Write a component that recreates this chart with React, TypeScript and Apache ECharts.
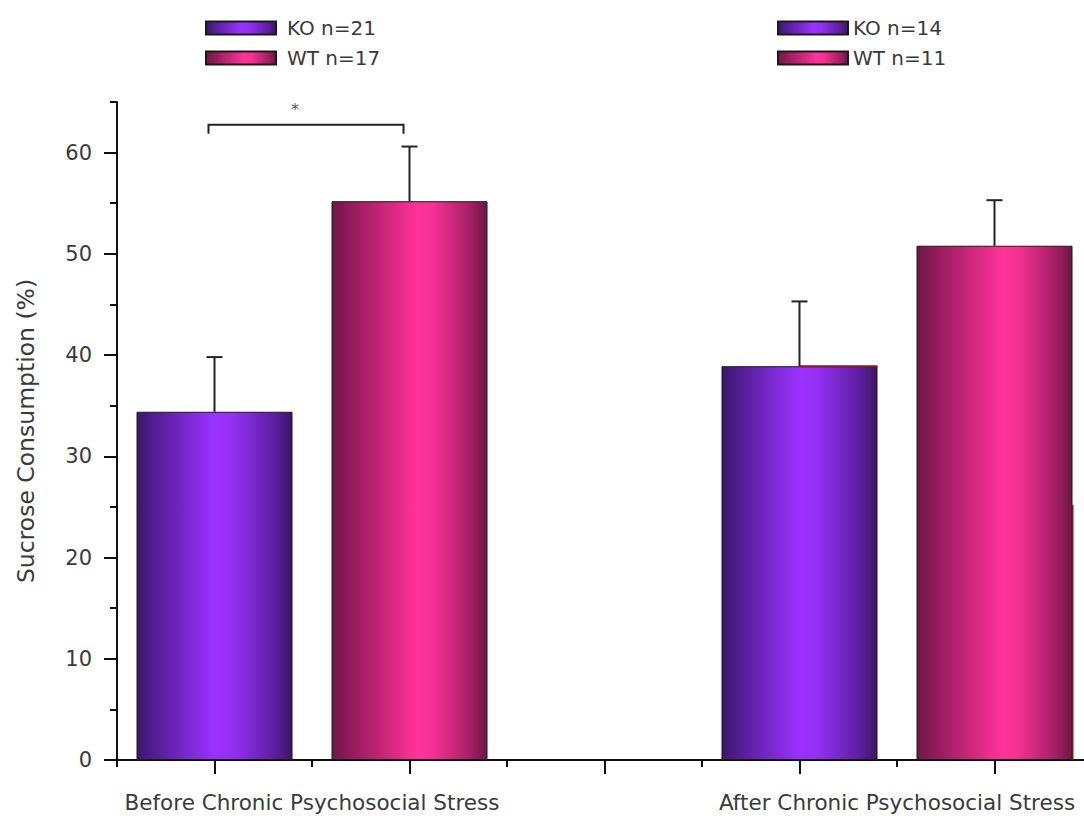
import React, { useEffect, useRef } from "react";
import * as echarts from "echarts";

// ---- data ----
const groupLabels = ["Before Chronic Psychosocial Stress", "After Chronic Psychosocial Stress"];
const slots = ["KO before", "WT before", "gap", "KO after", "WT after"];
const koMeans = [34.4, 38.9];
const koUpper = [39.8, 45.3];
const wtMeans = [55.2, 50.8];
const wtUpper = [60.6, 55.3];
const koN = [21, 14];
const wtN = [17, 11];
const yTicksMajor = [0, 10, 20, 30, 40, 50, 60];
const bracketLevel = 62.75;
const bracketSlots = [0, 1];
const edgeMarkLevel = 25.2;

const koGradient = {
  type: "linear", x: 0, y: 0, x2: 1, y2: 0,
  colorStops: [
    { offset: 0, color: "#3a1768" },
    { offset: 0.08, color: "#4c1c88" },
    { offset: 0.5, color: "#9a32ff" },
    { offset: 0.62, color: "#9330f2" },
    { offset: 0.9, color: "#5a1e9c" },
    { offset: 1, color: "#3c1662" },
  ],
};
const wtGradient = {
  type: "linear", x: 0, y: 0, x2: 1, y2: 0,
  colorStops: [
    { offset: 0, color: "#6c1846" },
    { offset: 0.1, color: "#8c1b57" },
    { offset: 0.55, color: "#ff3399" },
    { offset: 0.65, color: "#f63194" },
    { offset: 0.9, color: "#a11f62" },
    { offset: 1, color: "#681944" },
  ],
};

const FONT = "DejaVu Sans";
const TEXT = "#3a3a3a";

function slotData(group: number, kind: "KO" | "WT") {
  const arr: (number | string)[] = slots.map(() => "-");
  const idx = group * 3 + (kind === "KO" ? 0 : 1);
  arr[idx] = kind === "KO" ? koMeans[group] : wtMeans[group];
  return arr;
}

export default function App() {
  const ref = useRef<HTMLDivElement>(null);
  useEffect(() => {
    if (!ref.current) return;
    const chart = echarts.init(ref.current, null, { renderer: "svg" });
    const barCommon = {
      type: "bar",
      xAxisIndex: 1,
      yAxisIndex: 0,
      barWidth: 156,
      barGap: "-100%",
      itemStyle: { borderColor: "#1a1a1a", borderWidth: 1 },
    };
    const errData: number[][] = [];
    [0, 1].forEach((g) => {
      errData.push([g * 3, koMeans[g], koUpper[g]]);
      errData.push([g * 3 + 1, wtMeans[g], wtUpper[g]]);
    });
    const legendCommon = {
      orient: "vertical", itemWidth: 70, itemHeight: 13, itemGap: 10,
      icon: "rect", selectedMode: false,
    };
    const option: any = {
      animation: false,
      backgroundColor: "#fff",
      grid: { left: 117, top: 102, width: 975, height: 658, outerBoundsMode: "none", containLabel: false },
      legend: [
        {
          ...legendCommon, left: 200, top: 13,
          textStyle: { fontSize: 20, color: TEXT, fontFamily: FONT, padding: [0, 0, 0, 6] },
          data: [`KO n=${koN[0]}`, `WT n=${wtN[0]}`],
        },
        {
          ...legendCommon, left: 772, top: 13,
          textStyle: { fontSize: 20, color: TEXT, fontFamily: FONT, padding: [0, 0, 0, 0] },
          data: [`KO n=${koN[1]}`, `WT n=${wtN[1]}`],
        },
      ],
      xAxis: [
        {
          type: "value", min: 0.5, max: 5.5, interval: 0.5,
          axisLine: { show: true, onZero: false, lineStyle: { color: "#111", width: 2 } },
          axisTick: { show: true, length: 7, lineStyle: { color: "#111", width: 2 } },
          splitLine: { show: false },
          axisLabel: {
            margin: 31, fontSize: 21.5, color: TEXT, fontFamily: FONT,
            formatter: (v: number) => (v === 1.5 ? groupLabels[0] : v === 4.5 ? groupLabels[1] : ""),
          },
        },
        {
          type: "category", data: slots, boundaryGap: true, position: "bottom",
          axisLine: { show: false },
          axisTick: { show: true, alignWithLabel: true, length: 14, lineStyle: { color: "#111", width: 2 } },
          axisLabel: { show: false },
          splitLine: { show: false },
        },
      ],
      yAxis: [
        {
          type: "value", min: 0, max: 65, interval: 5, position: "left",
          name: "Sucrose Consumption (%)", nameLocation: "middle", nameGap: 79,
          nameTextStyle: { fontSize: 23.5, color: TEXT, fontFamily: FONT },
          axisLine: { show: true, lineStyle: { color: "#111", width: 2 } },
          axisTick: { show: true, length: 7, lineStyle: { color: "#111", width: 2 } },
          splitLine: { show: false },
          axisLabel: {
            margin: 25, fontSize: 21, color: TEXT, fontFamily: FONT,
            formatter: (v: number) => (yTicksMajor.indexOf(v) >= 0 ? String(v) : ""),
          },
        },
        {
          type: "value", min: 0, max: 65, interval: 5, position: "left", offset: 0,
          axisLine: { show: false },
          axisTick: { show: true, length: 13, customValues: yTicksMajor, lineStyle: { color: "#111", width: 2 } },
          axisLabel: { show: false },
          splitLine: { show: false },
        },
      ],
      series: [
        { ...barCommon, name: `KO n=${koN[0]}`, data: slotData(0, "KO"), itemStyle: { ...barCommon.itemStyle, color: koGradient } },
        { ...barCommon, name: `WT n=${wtN[0]}`, data: slotData(0, "WT"), itemStyle: { ...barCommon.itemStyle, color: wtGradient } },
        { ...barCommon, name: `KO n=${koN[1]}`, data: slotData(1, "KO"), itemStyle: { ...barCommon.itemStyle, color: koGradient } },
        { ...barCommon, name: `WT n=${wtN[1]}`, data: slotData(1, "WT"), itemStyle: { ...barCommon.itemStyle, color: wtGradient } },
        {
          type: "custom", name: "err", xAxisIndex: 1, yAxisIndex: 0, z: 5, silent: true,
          encode: { x: 0, y: [1, 2] },
          data: errData,
          renderItem: (params: any, api: any) => {
            const i = api.value(0);
            const base = api.coord([i, api.value(1)]);
            const top = api.coord([i, api.value(2)]);
            return {
              type: "group",
              children: [
                { type: "line", shape: { x1: top[0], y1: base[1], x2: top[0], y2: top[1] }, style: { stroke: "#222", lineWidth: 2 } },
                { type: "line", shape: { x1: top[0] - 8, y1: top[1], x2: top[0] + 8, y2: top[1] }, style: { stroke: "#222", lineWidth: 2 } },
              ],
            };
          },
        },
        {
          type: "custom", name: "sig", xAxisIndex: 1, yAxisIndex: 0, z: 5, silent: true,
          encode: { x: [0, 1], y: 2 },
          data: [[bracketSlots[0], bracketSlots[1], bracketLevel]],
          renderItem: (params: any, api: any) => {
            const a = api.coord([api.value(0), api.value(2)]);
            const b = api.coord([api.value(1), api.value(2)]);
            const ax = a[0] - 6, bx = b[0] - 6;
            return {
              type: "group",
              children: [
                { type: "polyline", shape: { points: [[ax, a[1] + 9], [ax, a[1]], [bx, b[1]], [bx, b[1] + 9]] }, style: { stroke: "#222", lineWidth: 2, fill: "none" } },
                { type: "text", style: { text: "*", x: (ax + bx) / 2 - 11, y: a[1] - 15, fontSize: 16, fill: "#555", fontFamily: FONT, align: "center", verticalAlign: "middle" } },
              ],
            };
          },
        },
        {
          type: "custom", name: "edges", xAxisIndex: 1, yAxisIndex: 0, z: 6, silent: true,
          encode: { x: 0, y: 1 },
          data: [[3, koMeans[1], 0], [4, edgeMarkLevel, 1]],
          renderItem: (params: any, api: any) => {
            const i = api.value(0);
            const p = api.coord([i, api.value(1)]);
            const z = api.coord([i, 0]);
            const half = 78;
            if (api.value(2) === 0) {
              return { type: "line", shape: { x1: p[0], y1: p[1], x2: p[0] + half, y2: p[1] }, style: { stroke: "#8b1a1a", lineWidth: 2 } };
            }
            return { type: "line", shape: { x1: p[0] + half, y1: p[1], x2: p[0] + half, y2: z[1] }, style: { stroke: "#8b1010", lineWidth: 2 } };
          },
        },
      ],
    };
    chart.setOption(option);
    return () => chart.dispose();
  }, []);
  return (
    <div
      ref={ref}
      style={{ position: "fixed", left: 0, top: 0, width: 1084, height: 816, background: "#fff" }}
    />
  );
}
